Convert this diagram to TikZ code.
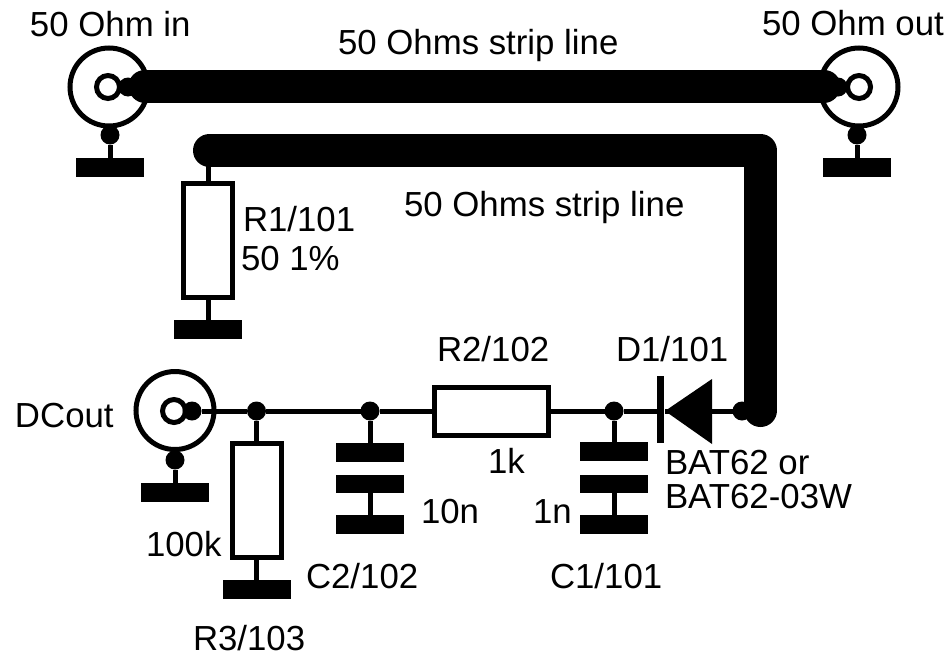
\documentclass[tikz,border=0pt]{standalone}
\usepackage{fontspec}
\setmainfont{Liberation Sans}
\usetikzlibrary{calc}

\tikzset{
    lbl/.style={anchor=base west, font=\fontsize{34.8}{35}\selectfont},
    wire/.style={line width=5pt},
    strip/.style={line width=33pt, line cap=round, line join=round},
    dot/.style={circle, fill=black, minimum size=19pt},
    gnd/.style={rectangle, fill=black, minimum width=68pt, minimum height=19pt},
    plate/.style={rectangle, fill=black, minimum width=68pt, minimum height=19pt},
    res_v/.style={rectangle, draw, line width=5pt, fill=white, minimum width=49pt, minimum height=114pt},
    res_h/.style={rectangle, draw, line width=5pt, fill=white, minimum width=114pt, minimum height=48pt},
    coax/.style={circle, draw, line width=5pt, minimum size=78pt},
    coax_in/.style={circle, draw, line width=5pt, minimum size=23pt}
}

\begin{document}
\begin{tikzpicture}[inner sep=0pt,outer sep=0pt,x=1pt,y=-1pt]
    \useasboundingbox (0,0) rectangle (946,656);

    % 50 Ohm in
    \node[coax] (in_coax) at (109, 87) {};
    \node[coax_in] (in_core) at (108, 87) {};
    \node[dot] (in_dot) at (128, 87) {};
    \node[dot] (in_gnd_dot) at (110, 135) {};
    \node[gnd] (in_gnd) at (110, 167) {};
    \draw[wire] (in_gnd_dot) -- (in_gnd);
    \draw[wire] (in_core) -- (in_dot);

    % 50 Ohm out
    \node[coax] (out_coax) at (859, 87) {};
    \node[coax_in] (out_core) at (859, 87) {};
    \node[dot] (out_dot) at (838, 87) {};
    \node[dot] (out_gnd_dot) at (857, 135) {};
    \node[gnd] (out_gnd) at (857, 167) {};
    \draw[wire] (out_gnd_dot) -- (out_gnd);
    \draw[wire] (out_dot) -- (out_core);

    % upper strip
    \coordinate (strip_a) at (145, 86);
    \coordinate (strip_b) at (824, 86);
    \draw[strip] (strip_a) -- (strip_b);

    % lower strip
    \coordinate (bend_a) at (209.5, 150.5);
    \coordinate (bend_b) at (760.5, 150.5);
    \coordinate (bend_c) at (760.5, 410.5);
    \draw[strip] (bend_a) -- (bend_b) -- (bend_c);

    % R1
    \node[res_v] (r1) at (208, 240.5) {};
    \node[gnd] (r1_gnd) at (208, 329.5) {};
    \draw[wire] (bend_a -| r1) -- (r1.north);
    \draw[wire] (r1.south) -- (r1_gnd);

    % DC out
    \node[coax] (dc_coax) at (175, 410.5) {};
    \node[coax_in] (dc_core) at (174, 411) {};
    \node[dot] (dc_dot) at (192, 411) {};
    \node[dot] (dc_gnd_dot) at (175, 460) {};
    \node[gnd] (dc_gnd) at (175, 492) {};
    \draw[wire] (dc_gnd_dot) -- (dc_gnd);

    % R3
    \node[dot] (j_r3) at (256.5, 411) {};
    \node[res_v] (r3) at (256.5, 500.5) {};
    \node[gnd] (r3_gnd) at (256.5, 589) {};
    \draw[wire] (j_r3) -- (r3.north);
    \draw[wire] (r3.south) -- (r3_gnd);

    % C2
    \node[dot] (j_c2) at (370, 411) {};
    \node[plate] (c2_a) at (370, 452) {};
    \node[plate,minimum height=18pt] (c2_b) at (370, 484) {};
    \node[plate] (c2_c) at (370, 524.5) {};
    \draw[wire] (j_c2) -- (c2_a);
    \draw[wire] (c2_b) -- (c2_c);

    % R2
    \node[res_h] (r2) at (491.5, 411) {};
    \draw[wire] (dc_dot) -- (j_r3);
    \draw[wire] (j_r3) -- (j_c2);
    \draw[wire] (j_c2) -- (r2.west);

    % C1
    \node[dot] (j_c1) at (614, 411) {};
    \node[plate] (c1_a) at (614, 451.5) {};
    \node[plate,minimum height=18pt] (c1_b) at (614, 484) {};
    \node[plate] (c1_c) at (614, 524.5) {};
    \draw[wire] (r2.east) -- (j_c1);
    \draw[wire] (j_c1) -- (c1_a);
    \draw[wire] (c1_b) -- (c1_c);

    % D1
    \node[rectangle, fill=black, minimum width=7pt, minimum height=67pt] (d1_bar) at (660.5, 409.5) {};
    \node[dot] (d1_dot) at (742, 411) {};
    \coordinate (d1_tip) at (665, 411);
    \coordinate (d1_top) at (712, 379);
    \coordinate (d1_bot) at (712, 444);
    \fill (d1_tip) -- (d1_top) -- (d1_bot) -- cycle;
    \draw[wire] (j_c1) -- (j_c1 -| d1_bar);
    \draw[wire] (d1_tip) -- (d1_dot);

    % labels
    \node[lbl] (in_cap) at (30, 36) {50 Ohm in};
    \node[lbl] (out_cap) at (762, 35) {50 Ohm out};
    \node[lbl] (strip_cap) at (338, 54) {50 Ohms strip line};
    \node[lbl] (bend_cap) at (404, 216) {50 Ohms strip line};
    \node[lbl] (r1_cap) at (243, 231) {R1/101};
    \node[lbl] (r1_val) at (241, 270) {50 1\%};
    \node[lbl] (r2_cap) at (437, 361) {R2/102};
    \node[lbl] (r2_val) at (488, 473) {1k};
    \node[lbl] (d1_cap) at (616, 361) {D1/101};
    \node[lbl] (d1_val) at (665, 474) {BAT62 or};
    \node[lbl] (d1_alt) at (665, 508) {BAT62-03W};
    \node[lbl] (dc_cap) at (15, 427) {DCout};
    \node[lbl] (r3_val) at (146, 556) {100k};
    \node[lbl] (r3_cap) at (193, 650) {R3/103};
    \node[lbl] (c2_val) at (421, 523) {10n};
    \node[lbl] (c2_cap) at (306, 588) {C2/102};
    \node[lbl] (c1_val) at (533, 523) {1n};
    \node[lbl] (c1_cap) at (550, 588) {C1/101};

\end{tikzpicture}
\end{document}
